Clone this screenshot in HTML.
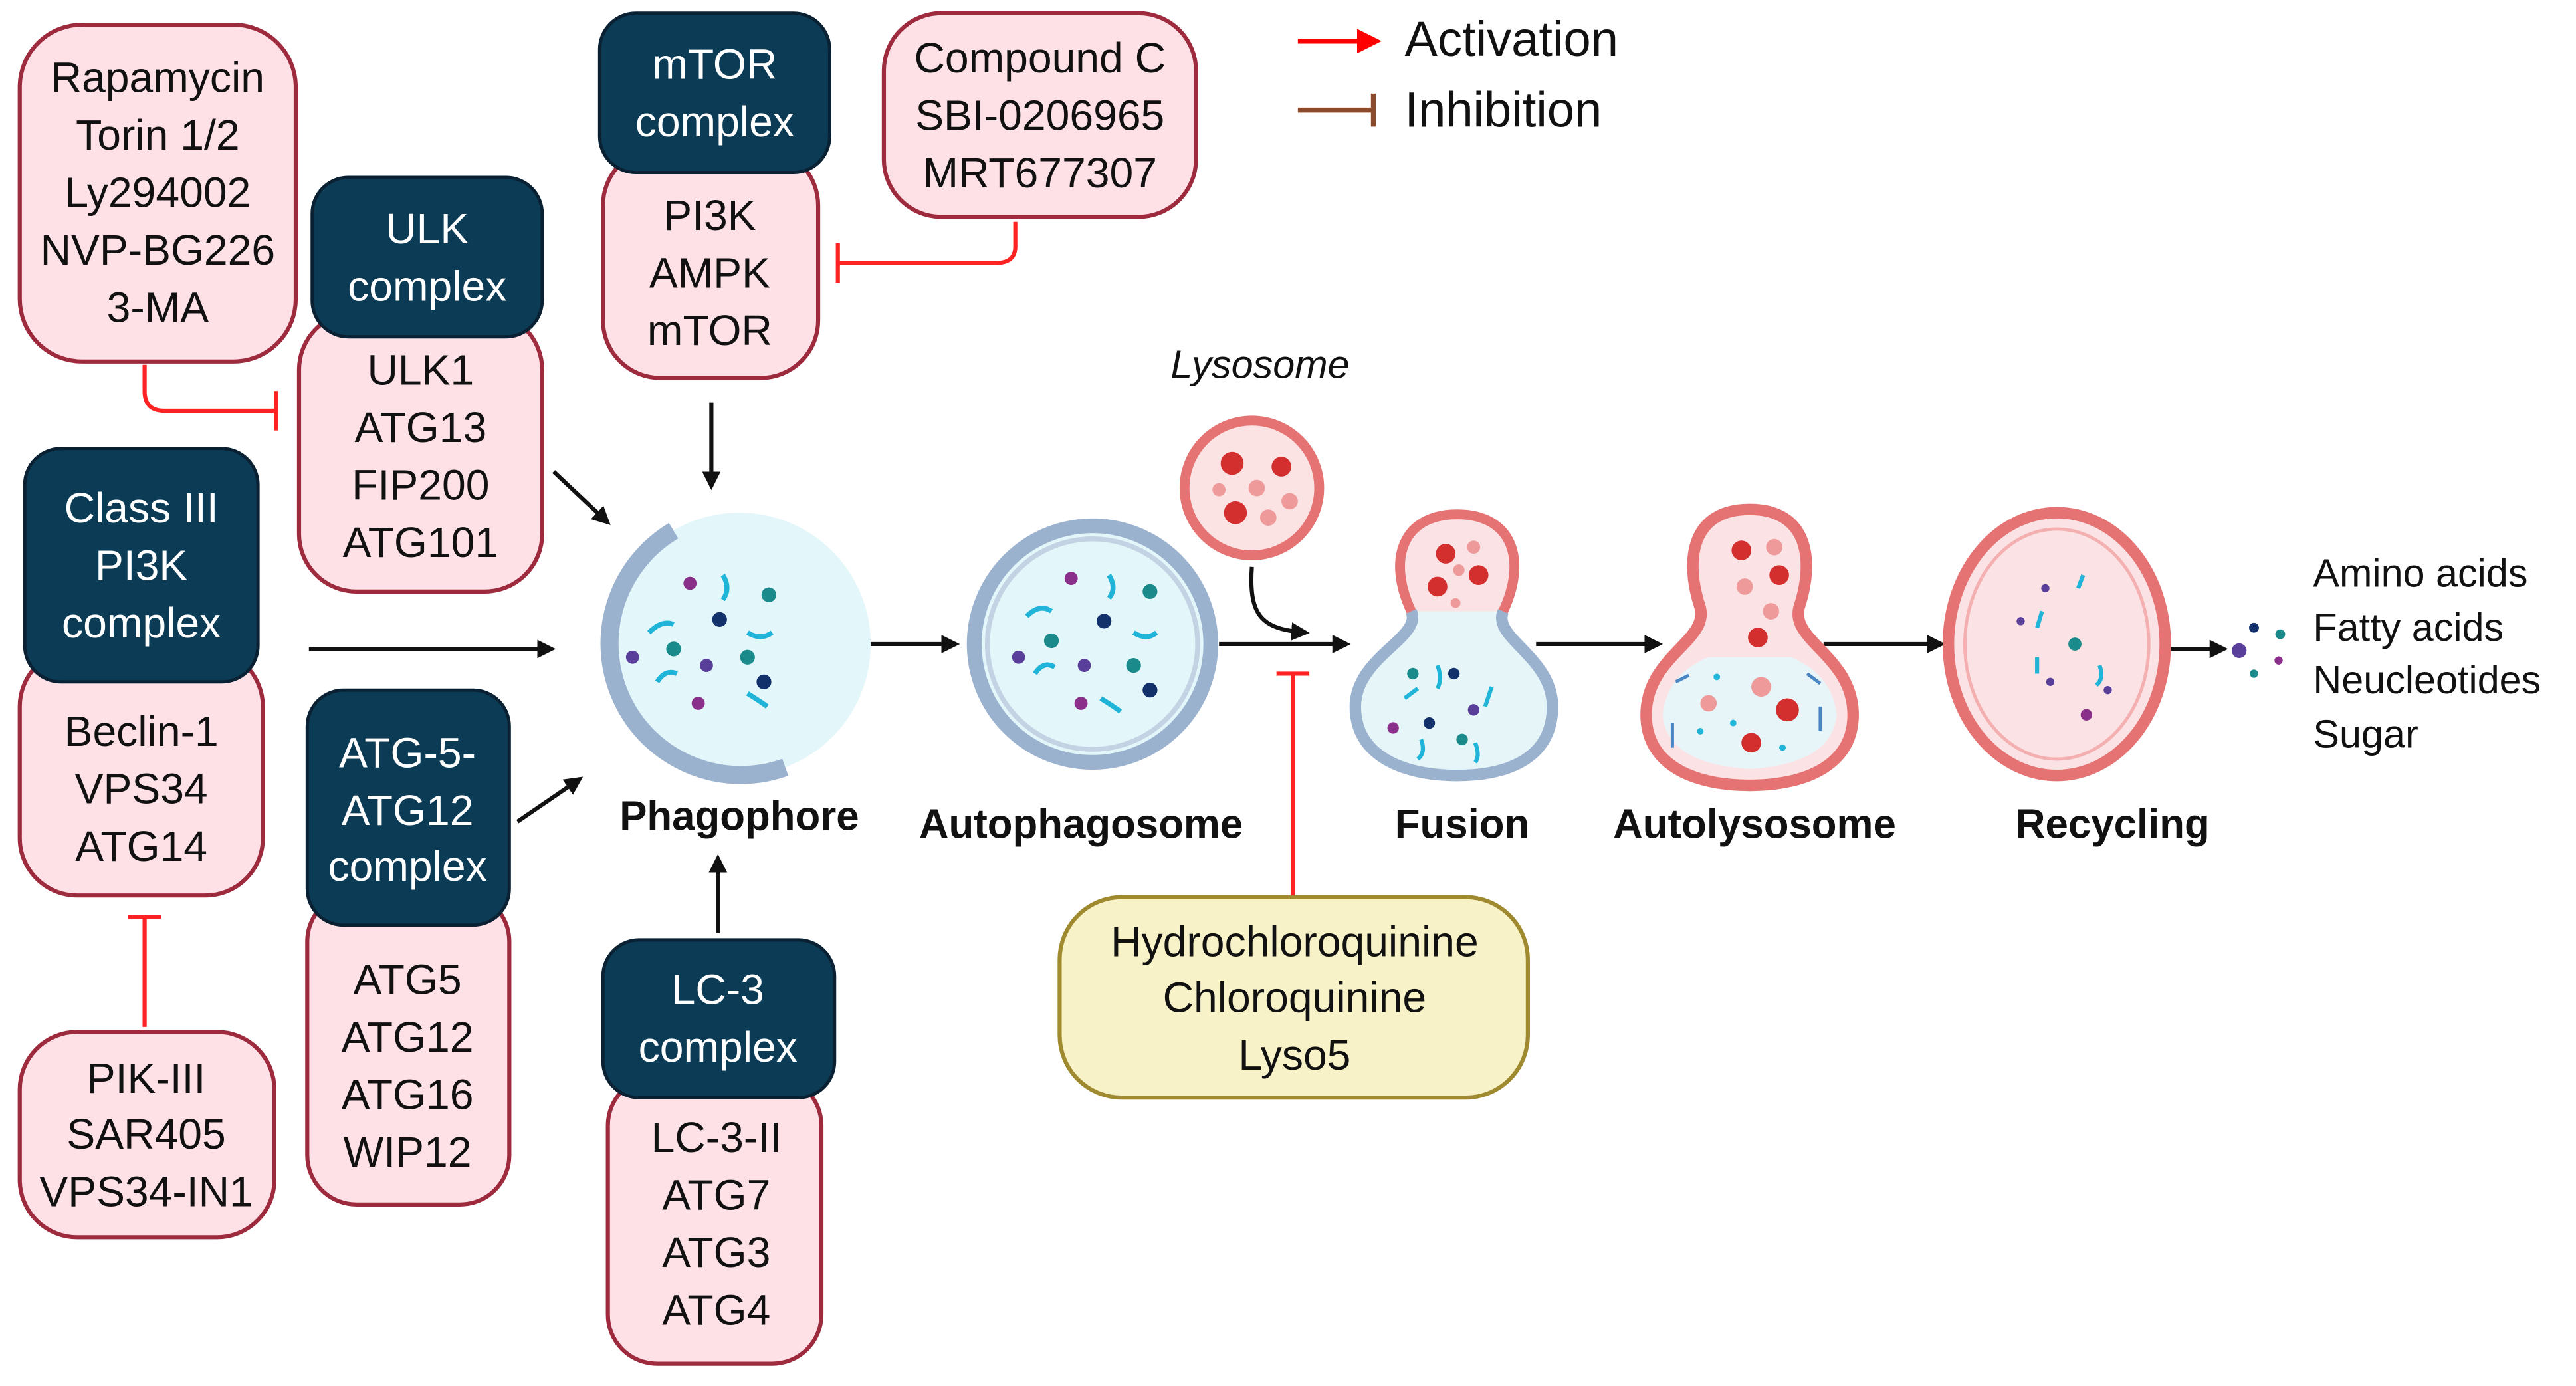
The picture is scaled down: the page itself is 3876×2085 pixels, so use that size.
<!DOCTYPE html>
<html><head><meta charset="utf-8"><style>
html,body{margin:0;padding:0;background:#fff;}
svg{display:block;}
text{font-family:"Liberation Sans",sans-serif;}
</style></head><body>
<svg width="3876" height="2085" viewBox="0 0 1568 843.5" xmlns="http://www.w3.org/2000/svg">
<defs>
<marker id="ah" viewBox="0 0 10 10" refX="8" refY="5" markerWidth="4.5" markerHeight="4.5" orient="auto"><path d="M0,0 L10,5 L0,10 z" fill="#111"/></marker>
<marker id="ar" viewBox="0 0 10 10" refX="8" refY="5" markerWidth="5" markerHeight="5" orient="auto"><path d="M0,0 L10,5 L0,10 z" fill="#f00"/></marker>
</defs>
<g stroke="#9e2a3e" stroke-width="2.5" fill="#fde1e7">
<rect x="12" y="15" width="168" height="205" rx="38"/>
<rect x="182" y="190" width="148" height="170" rx="35"/>
<rect x="367" y="90" width="131" height="140" rx="35"/>
<rect x="538" y="8" width="190" height="124" rx="35"/>
<rect x="12" y="395" width="148" height="150" rx="35"/>
<rect x="12" y="628" width="155" height="125" rx="35"/>
<rect x="187" y="543" width="123" height="190" rx="30"/>
<rect x="370" y="655" width="130" height="175" rx="30"/>
</g>
<rect x="645" y="546" width="285" height="122" rx="38" fill="#f8f2c9" stroke="#a08a30" stroke-width="2.5"/>
<g fill="#0c3b55" stroke="#0a2133" stroke-width="2">
<rect x="190" y="108" width="140" height="97" rx="22"/>
<rect x="365" y="8" width="140" height="97" rx="22"/>
<rect x="15" y="273" width="142" height="142" rx="22"/>
<rect x="187" y="420" width="123" height="143" rx="22"/>
<rect x="367" y="572" width="141" height="96" rx="22"/>
</g>
<g font-size="26" text-anchor="middle" fill="#fff">
<text x="260" y="148">ULK</text><text x="260" y="183">complex</text>
<text x="435" y="48">mTOR</text><text x="435" y="83">complex</text>
<text x="86" y="318">Class III</text><text x="86" y="353">PI3K</text><text x="86" y="388">complex</text>
<text x="248" y="467">ATG-5-</text><text x="248" y="502">ATG12</text><text x="248" y="536">complex</text>
<text x="437" y="611">LC-3</text><text x="437" y="646">complex</text>
</g>
<g font-size="26" text-anchor="middle" fill="#111">
<text x="96" y="56">Rapamycin</text><text x="96" y="91">Torin 1/2</text><text x="96" y="126">Ly294002</text><text x="96" y="161">NVP-BG226</text><text x="96" y="196">3-MA</text>
<text x="256" y="234">ULK1</text><text x="256" y="269">ATG13</text><text x="256" y="304">FIP200</text><text x="256" y="339">ATG101</text>
<text x="432" y="140">PI3K</text><text x="432" y="175">AMPK</text><text x="432" y="210">mTOR</text>
<text x="633" y="44">Compound C</text><text x="633" y="79">SBI-0206965</text><text x="633" y="114">MRT677307</text>
<text x="86" y="454">Beclin-1</text><text x="86" y="489">VPS34</text><text x="86" y="524">ATG14</text>
<text x="89" y="665">PIK-III</text><text x="89" y="699">SAR405</text><text x="89" y="734">VPS34-IN1</text>
<text x="248" y="605">ATG5</text><text x="248" y="640">ATG12</text><text x="248" y="675">ATG16</text><text x="248" y="710">WIP12</text>
<text x="436" y="701">LC-3-II</text><text x="436" y="736">ATG7</text><text x="436" y="771">ATG3</text><text x="436" y="806">ATG4</text>
<text x="788" y="582">Hydrochloroquinine</text><text x="788" y="616">Chloroquinine</text><text x="788" y="651">Lyso5</text>
</g>
<!-- legend -->
<line x1="790" y1="25" x2="838" y2="25" stroke="#f00" stroke-width="3" marker-end="url(#ar)"/>
<text x="855" y="34" font-size="30" fill="#111">Activation</text>
<line x1="790" y1="67" x2="836" y2="67" stroke="#8b4a2b" stroke-width="3"/>
<line x1="836" y1="57" x2="836" y2="77" stroke="#8b4a2b" stroke-width="3"/>
<text x="855" y="77" font-size="30" fill="#111">Inhibition</text>
<!-- black arrows -->
<g stroke="#111" stroke-width="2.5" fill="none" marker-end="url(#ah)">
<line x1="337" y1="287" x2="370" y2="318"/>
<line x1="433" y1="245" x2="433" y2="296"/>
<line x1="188" y1="395" x2="336" y2="395"/>
<line x1="315" y1="500" x2="353" y2="474"/>
<line x1="437" y1="568" x2="437" y2="522"/>
<line x1="505" y1="392" x2="582" y2="392"/>
<line x1="742" y1="392" x2="820" y2="392"/>
<path d="M762,345 C760,375 768,383 795,385"/>
<line x1="935" y1="392" x2="1010" y2="392"/>
<line x1="1110" y1="392" x2="1182" y2="392"/>
<line x1="1262" y1="395" x2="1354" y2="395"/>
</g>
<!-- inhibitors -->
<g stroke="#f22" stroke-width="2.5" fill="none">
<path d="M88,222 V238 Q88,250 100,250 H168"/><line x1="168" y1="238" x2="168" y2="262"/>
<path d="M618,135 V150 Q618,160 606,160 H510"/><line x1="510" y1="148" x2="510" y2="172"/>
<line x1="88" y1="625" x2="88" y2="558"/><line x1="78" y1="558" x2="98" y2="558"/>
<line x1="787" y1="545" x2="787" y2="410"/><line x1="777" y1="410" x2="797" y2="410"/>
</g>
<!-- phagophore -->
<circle cx="450" cy="392" r="80" fill="#e3f6f9"/>
<path d="M410,323 A80,80 0 0 0 478,467" stroke="#9bb2cf" stroke-width="11" fill="none"/>
<g stroke="#1fb4d8" stroke-width="3" fill="none">
<path d="M440,350 q5,8 0,15"/><path d="M395,385 q8,-8 15,-5"/><path d="M455,385 q8,5 15,0"/><path d="M400,415 q5,-8 12,-5"/><path d="M455,422 q8,5 12,8"/>
</g>
<g><circle cx="420" cy="355" r="4" fill="#8a2f8a"/><circle cx="468" cy="362" r="4.5" fill="#1a8a8a"/><circle cx="438" cy="377" r="4.5" fill="#12306a"/><circle cx="410" cy="395" r="4.5" fill="#1a8a8a"/><circle cx="385" cy="400" r="4" fill="#5a3f9a"/><circle cx="430" cy="405" r="4" fill="#5a3f9a"/><circle cx="455" cy="400" r="4.5" fill="#1a8a8a"/><circle cx="465" cy="415" r="4.5" fill="#12306a"/><circle cx="425" cy="428" r="4" fill="#8a2f8a"/></g>
<text x="450" y="505" font-size="25" font-weight="bold" text-anchor="middle" fill="#111">Phagophore</text>
<!-- autophagosome -->
<circle cx="665" cy="392" r="72" fill="#e3f6f9" stroke="#9bb2cf" stroke-width="9"/>
<circle cx="665" cy="392" r="64" fill="none" stroke="#c4d3e3" stroke-width="3"/>
<g stroke="#1fb4d8" stroke-width="3" fill="none"><path d="M625,375 q8,-8 15,-3"/><path d="M675,350 q5,8 0,14"/><path d="M690,385 q8,5 14,0"/><path d="M630,410 q5,-8 12,-4"/><path d="M670,425 q8,5 12,8"/></g>
<g><circle cx="652" cy="352" r="4" fill="#8a2f8a"/><circle cx="700" cy="360" r="4.5" fill="#1a8a8a"/><circle cx="672" cy="378" r="4.5" fill="#12306a"/><circle cx="640" cy="390" r="4.5" fill="#1a8a8a"/><circle cx="620" cy="400" r="4" fill="#5a3f9a"/><circle cx="660" cy="405" r="4" fill="#5a3f9a"/><circle cx="690" cy="405" r="4.5" fill="#1a8a8a"/><circle cx="700" cy="420" r="4.5" fill="#12306a"/><circle cx="658" cy="428" r="4" fill="#8a2f8a"/></g>
<text x="658" y="510" font-size="25" font-weight="bold" text-anchor="middle" fill="#111">Autophagosome</text>
<!-- lysosome -->
<text x="767" y="230" font-size="24" font-style="italic" text-anchor="middle" fill="#111">Lysosome</text>
<circle cx="762" cy="297" r="41" fill="#fbe3e3" stroke="#e57373" stroke-width="6"/>
<g fill="#d32f2f"><circle cx="750" cy="282" r="7"/><circle cx="780" cy="284" r="6"/><circle cx="752" cy="312" r="7"/></g>
<g fill="#ef9a9a"><circle cx="765" cy="297" r="5"/><circle cx="785" cy="305" r="5"/><circle cx="772" cy="315" r="5"/><circle cx="742" cy="298" r="4"/></g>
<!-- fusion -->
<path d="M887,313 C920,313 930,340 915,372 C908,388 945,400 945,430 C945,460 920,472 887,472 C854,472 825,460 825,430 C825,400 866,388 859,372 C844,340 854,313 887,313 z" fill="#fbe3e5" stroke="#e57373" stroke-width="6"/>
<path d="M859,372 C866,388 825,400 825,430 C825,460 854,472 887,472 C920,472 945,460 945,430 C945,400 908,388 915,372" fill="#e6f5f8" stroke="#9bb2cf" stroke-width="7"/>
<g fill="#d32f2f"><circle cx="880" cy="337" r="6"/><circle cx="900" cy="350" r="6"/><circle cx="875" cy="357" r="6"/></g>
<g fill="#ef9a9a"><circle cx="897" cy="333" r="4"/><circle cx="888" cy="347" r="3.5"/><circle cx="886" cy="367" r="3"/></g>
<g><circle cx="860" cy="410" r="3.5" fill="#1a8a8a"/><circle cx="885" cy="410" r="3.5" fill="#12306a"/><circle cx="870" cy="440" r="3.5" fill="#12306a"/><circle cx="897" cy="432" r="3.5" fill="#5a3f9a"/><circle cx="848" cy="443" r="3.5" fill="#8a2f8a"/><circle cx="890" cy="450" r="3.5" fill="#1a8a8a"/></g>
<g stroke="#1fb4d8" stroke-width="2.5" fill="none"><path d="M855,425 l8,-6"/><path d="M875,405 q3,8 0,14"/><path d="M908,418 l-4,12"/><path d="M865,450 q3,8 -2,12"/><path d="M898,452 q3,8 0,12"/></g>
<text x="890" y="510" font-size="25" font-weight="bold" text-anchor="middle" fill="#111">Fusion</text>
<!-- autolysosome -->
<path d="M1065,310 C1100,310 1105,340 1095,370 C1090,390 1128,400 1128,435 C1128,465 1100,478 1065,478 C1030,478 1002,465 1002,435 C1002,400 1040,390 1035,370 C1025,340 1030,310 1065,310 z" fill="#fbe3e5" stroke="#e57373" stroke-width="7"/>
<path d="M1040,400 Q1015,410 1012,435 Q1015,465 1065,468 Q1115,465 1118,435 Q1115,410 1090,400 z" fill="#e8f5f8" stroke="none"/>
<g fill="#d32f2f"><circle cx="1060" cy="335" r="6"/><circle cx="1083" cy="350" r="6"/><circle cx="1070" cy="388" r="6"/><circle cx="1088" cy="432" r="7"/><circle cx="1066" cy="452" r="6"/></g>
<g fill="#ef9a9a"><circle cx="1080" cy="333" r="5"/><circle cx="1062" cy="357" r="5"/><circle cx="1078" cy="372" r="5"/><circle cx="1072" cy="418" r="6"/><circle cx="1040" cy="428" r="5"/></g>
<g stroke="#4b86c4" stroke-width="2" fill="none"><path d="M1020,415 l8,-4"/><path d="M1018,440 l0,15"/><path d="M1108,430 l0,15"/><path d="M1100,410 l8,6"/></g>
<g fill="#1fb4d8"><circle cx="1045" cy="412" r="2"/><circle cx="1055" cy="440" r="2"/><circle cx="1085" cy="455" r="2"/><circle cx="1035" cy="445" r="2"/></g>
<text x="1068" y="510" font-size="25" font-weight="bold" text-anchor="middle" fill="#111">Autolysosome</text>
<!-- recycling -->
<ellipse cx="1252" cy="392" rx="66" ry="80" fill="#fbe3e5" stroke="#e57373" stroke-width="7"/>
<ellipse cx="1252" cy="392" rx="56" ry="70" fill="none" stroke="#f4b0b0" stroke-width="2"/>
<circle cx="1263" cy="392" r="4" fill="#1a8a8a"/>
<g fill="#5a3f9a"><circle cx="1245" cy="358" r="2.5"/><circle cx="1230" cy="378" r="2.5"/><circle cx="1248" cy="415" r="2.5"/><circle cx="1283" cy="420" r="2.5"/><circle cx="1270" cy="435" r="3.5" fill="#8a2f8a"/></g>
<g stroke="#1fb4d8" stroke-width="2.5" fill="none"><path d="M1268,350 l-3,8"/><path d="M1243,372 l-3,10"/><path d="M1240,400 l0,10"/><path d="M1278,405 q3,8 -2,12"/></g>
<text x="1286" y="510" font-size="25" font-weight="bold" text-anchor="middle" fill="#111">Recycling</text>
<!-- products -->
<g><circle cx="1372" cy="382" r="3" fill="#12306a"/><circle cx="1388" cy="386" r="3" fill="#1a8a8a"/><circle cx="1363" cy="396" r="4.5" fill="#5a3f9a"/><circle cx="1387" cy="402" r="2.5" fill="#8a2f8a"/><circle cx="1372" cy="410" r="2.5" fill="#1a8a8a"/></g>
<g font-size="24" fill="#111"><text x="1408" y="357">Amino acids</text><text x="1408" y="390">Fatty acids</text><text x="1408" y="422">Neucleotides</text><text x="1408" y="455">Sugar</text></g>
</svg>
</body></html>
